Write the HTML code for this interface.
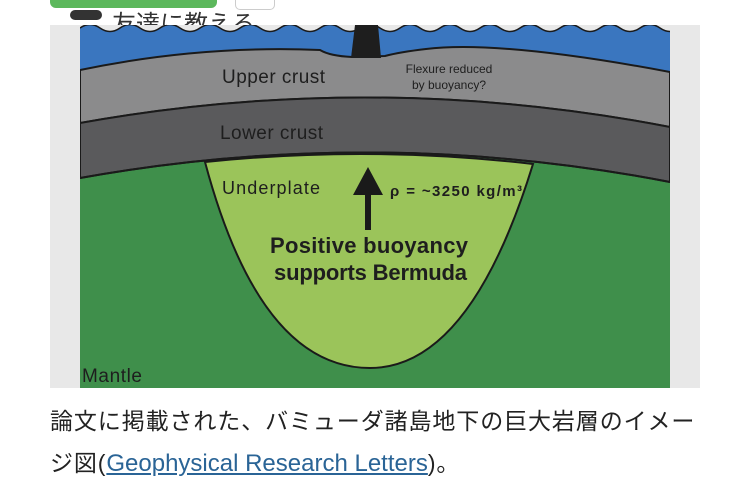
<!DOCTYPE html>
<html><head><meta charset="utf-8"><style>
body{margin:0;width:750px;height:503px;background:#fff;position:relative;overflow:hidden;font-family:"Liberation Sans","Noto Sans CJK JP",sans-serif}
.cap{position:absolute;left:50px;font-size:23px;color:#222;line-height:42px;top:400px;width:700px;letter-spacing:0.9px;white-space:nowrap}
.cap a{color:#2a6496;text-decoration:underline;letter-spacing:0;font-size:24px}
</style></head><body>
<div style="position:absolute;left:50px;top:-10px;width:167px;height:18px;background:#5cb85c;border-radius:6px"></div>
<div style="position:absolute;left:235px;top:-10px;width:38px;height:18px;border:1px solid #ccc;border-radius:5px"></div>
<div style="position:absolute;left:70px;top:10px;width:32px;height:10px;background:#333;border-radius:5px"></div>
<div style="position:absolute;left:112px;top:4px;font-size:24px;color:#333">友達に教える</div>
<svg style="position:absolute;left:0;top:0" width="750" height="503">
<rect x="50" y="25" width="650" height="363" fill="#e8e8e8"/>
<clipPath id="c"><rect x="80" y="25" width="590" height="363"/></clipPath>
<g clip-path="url(#c)">
<rect x="80" y="25" width="590" height="363" fill="#3f8f4b"/>
<path d="M80,22 L670,22 L670,72 Q500,40 426,49 Q400,52 385,56 L352,57 Q330,56 320,50 Q200,45 80,70 Z" fill="#3a76bf"/>
<path d="M80,70 Q200,45 320,50 Q330,56 352,57 L385,56 Q400,52 426,49 Q500,40 670,72 L670,127 Q375,70 80,123 Z" fill="#8b8b8c" stroke="#1a1a1a" stroke-width="2"/>
<path d="M80,123 Q375,70 670,127 L670,182 Q375,125 80,178 Z" fill="#5a5a5c" stroke="#1a1a1a" stroke-width="2"/>
<path d="M205,162 Q370,145 533,164 Q470,368 370,368 Q260,368 205,162 Z" fill="#9bc45a" stroke="#1a1a1a" stroke-width="2"/>
<path d="M80,178 Q375,125 670,182" fill="none" stroke="#1a1a1a" stroke-width="2"/>
<path d="M80,28 q10,-7 20,0 t20,0 t20,0 t20,0 t20,0 t20,0 t20,0 t20,0 t20,0 t20,0 t20,0 t20,0 t20,0 t20,0 t20,0 t20,0 t20,0 t20,0 t20,0 t20,0 t20,0 t20,0 t20,0 t20,0 t20,0 t20,0 t20,0 t20,0 t20,0 t20,0 V22 H80Z" fill="#e8e8e8"/>
<path d="M80,28 q10,-7 20,0 t20,0 t20,0 t20,0 t20,0 t20,0 t20,0 t20,0 t20,0 t20,0 t20,0 t20,0 t20,0 t20,0 t20,0 t20,0 t20,0 t20,0 t20,0 t20,0 t20,0 t20,0 t20,0 t20,0 t20,0 t20,0 t20,0 t20,0 t20,0 t20,0" fill="none" stroke="#1a1a1a" stroke-width="1.5"/>
<path d="M355,25 L378,25 L381,58 L351,58 Z" fill="#1e1e1e"/>
<path d="M368,167 L383,195 L371,195 L371,230 L365,230 L365,195 L353,195 Z" fill="#1a1a1a"/>
</g>
<g fill="#1e1e1e" font-family="Liberation Sans,sans-serif">
<text x="222" y="83" font-size="19" textLength="103">Upper crust</text>
<text x="449" y="73" font-size="12" text-anchor="middle">Flexure reduced</text>
<text x="449" y="89" font-size="12" text-anchor="middle">by buoyancy?</text>
<text x="220" y="139" font-size="19" textLength="103">Lower crust</text>
<text x="222" y="194" font-size="18" textLength="98">Underplate</text>
<text x="390" y="196" font-size="15" font-weight="bold" textLength="132">ρ = ~3250 kg/m³</text>
<text x="270" y="253" font-size="22" font-weight="bold" textLength="198">Positive buoyancy</text>
<text x="274" y="280" font-size="22" font-weight="bold" textLength="193">supports Bermuda</text>
<text x="82" y="382" font-size="19" textLength="60">Mantle</text>
</g>
</svg>
<div class="cap">論文に掲載された、バミューダ諸島地下の巨大岩層のイメー<br>ジ図(<a>Geophysical Research Letters</a>)。</div>
</body></html>
